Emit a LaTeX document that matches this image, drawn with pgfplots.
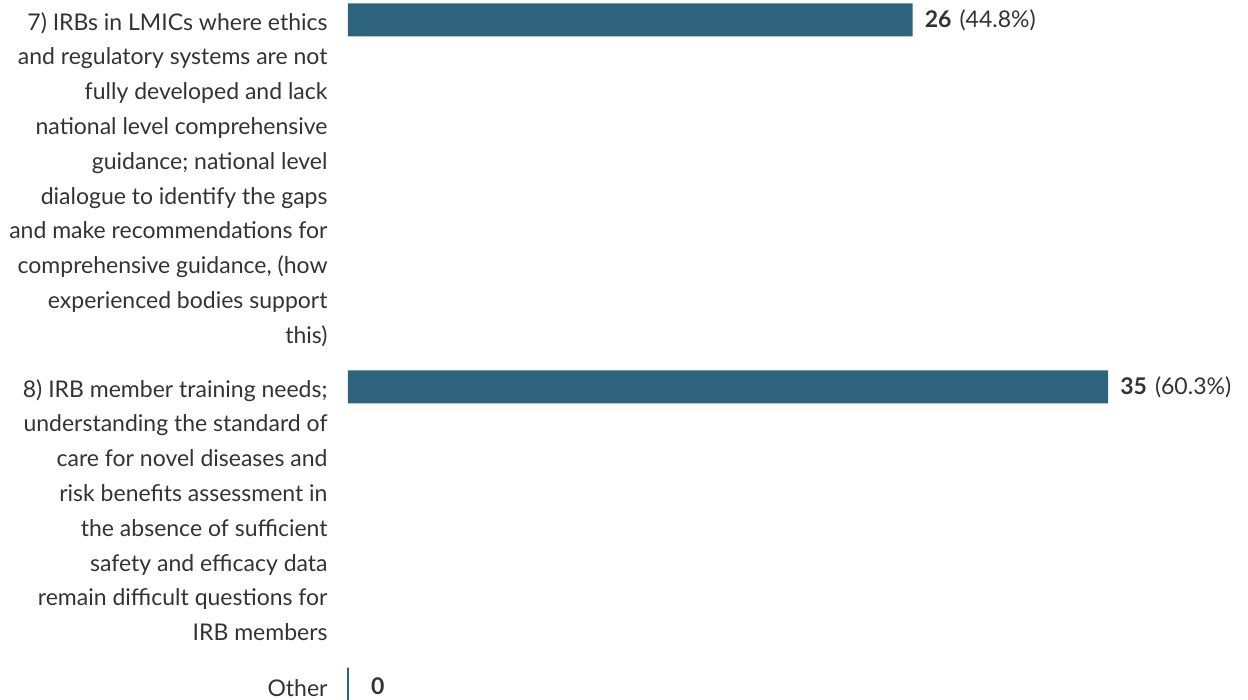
\documentclass[border=0pt]{standalone}
\usepackage{pgfplots}
\pgfplotsset{compat=1.18}
\usepackage{fontspec}
\setmainfont{Lato}
\definecolor{barc}{HTML}{2E637D}
\definecolor{txt}{HTML}{333333}
\begin{document}
\begin{tikzpicture}
\fontsize{23}{34.8}\selectfont
\begin{axis}[
  scale only axis, width=900pt, height=700pt,
  xmin=0, xmax=41.44, ymin=0, ymax=700, y dir=reverse,
  axis line style={draw=none}, tick style={draw=none},
  xtick=\empty,
  ytick={20,387,687},
  yticklabels={{7) IRBs in LMICs where ethics\\and regulatory systems are not\\fully developed and lack\\national level comprehensive\\guidance; national level\\dialogue to identify the gaps\\and make recommendations for\\comprehensive guidance, (how\\experienced bodies support\\this)},
    {8) IRB member training needs;\\understanding the standard of\\care for novel diseases and\\risk benefits assessment in\\the absence of sufficient\\safety and efficacy data\\remain difficult questions for\\IRB members},
    {Other}},
  yticklabel style={anchor=north east, align=right, inner sep=0pt, xshift=-16pt, yshift=8pt, text=txt, font=\fontsize{23}{34.8}\selectfont},
  xbar, bar width=33pt, bar shift=0pt,
  clip=false,
  point meta=explicit symbolic,
  nodes near coords,
  nodes near coords style={anchor=west, inner sep=0pt, xshift=12pt, text=txt, font=\fontsize{23}{34.8}\selectfont},
]
\addplot[fill=barc, draw=none] coordinates {
  (26,20) [\textbf{26}\hspace{8pt}(44.8\%)]
  (35,387) [\textbf{35}\hspace{8pt}(60.3\%)]
};
\addplot[fill=barc, draw=barc, line width=2.5pt, nodes near coords style={xshift=10pt, yshift=-2pt}] coordinates {
  (0,684) [\textbf{0}]
};
\end{axis}
\pgfresetboundingbox
\path (-348pt,0) rectangle (900pt,700pt);
\end{tikzpicture}
\end{document}
